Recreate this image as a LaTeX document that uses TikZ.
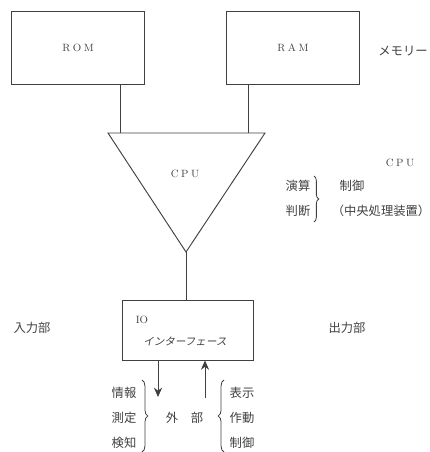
\documentclass[tikz,border=0pt]{standalone}
\usepackage{fontspec}
\newfontfamily\jp{Noto Sans CJK JP}
\newfontfamily\jpslant[FakeSlant=0.2]{Noto Sans CJK JP}
\usetikzlibrary{arrows.meta, positioning, decorations.pathreplacing, calc}

\newcommand{\sk}{\kern2.2pt}

\tikzset{
    unit/.style={draw, line width=0.8pt, inner sep=0pt},
    txt/.style={inner sep=1pt, font=\fontsize{10.5}{12}\selectfont\jp},
    latin/.style={inner sep=1pt, font=\small},
    link/.style={line width=0.8pt},
    curly/.style={decorate, decoration={brace, amplitude=4pt}, line width=0.7pt}
}

\begin{document}
\begin{tikzpicture}[x=0.03cm, y=-0.03cm, color=black!75]
    \useasboundingbox (0,0) rectangle (430,452);
    % memory
    \foreach \x/\name/\label in {78/rom/R\sk O\sk M, 293/ram/R\sk A\sk M} {
        \node[unit, latin, minimum width=3.99cm, minimum height=2.19cm] (\name) at (\x, 48) {\label};
    }
    \node[txt] (mem) at (403, 51) {メモリー};

    % cpu
    \coordinate (cpuL) at (108, 133);
    \coordinate (cpuR) at (265, 133);
    \coordinate (cpuB) at (186, 252);
    \draw[link] (cpuL) -- (cpuR) -- (cpuB) -- cycle;
    \node[latin] (cpu) at (185, 174) {C\sk P\sk U};
    \coordinate (romlink) at (120, 133);
    \coordinate (ramlink) at (248, 133);
    \draw[link] (romlink |- rom.south) -- (romlink);
    \draw[link] (ramlink |- ram.south) -- (ramlink);

    \node[latin] (cpuname) at (400, 163) {C\sk P\sk U};
    \node[txt] (calc) at (298, 186) {演算};
    \node[txt] (judge) at (298, 211) {判断};
    \coordinate (bt) at (314, 176);
    \coordinate (bb) at (314, 222);
    \draw[curly] (bt) -- (bb);
    \node[txt] (ctrl) at (352, 186) {制御};
    \node[txt] (cpuj) at (381, 211) {（中央処理装置）};

    % io
    \node[unit, minimum width=3.93cm, minimum height=1.8cm] (io) at (187.5, 330) {};
    \draw[link] (cpuB) -- (io.north -| cpuB);
    \node[latin] (ioname) at (142, 320) {IO};
    \node[txt, font=\fontsize{9}{11}\selectfont\jpslant] (iface) at (185, 341) {インターフェース};
    \node[txt] (inp) at (32, 328) {入力部};
    \node[txt] (outp) at (347, 328) {出力部};

    % external
    \coordinate (outend) at (158, 397);
    \coordinate (inbeg) at (205, 398);
    \draw[link, -{Stealth[length=8pt, width=7pt]}] (io.south -| outend) -- (outend);
    \draw[link, -{Stealth[length=8pt, width=7pt]}] (inbeg) -- (io.south -| inbeg);
    \foreach \y/\a/\b in {393/情報/表示, 418/測定/作動, 443/検知/制御} {
        \node[txt] (l\y) at (124, \y) {\a};
        \node[txt] (r\y) at (242, \y) {\b};
    }
    \draw[curly, decoration={amplitude=5pt}] (142, 380) -- (142, 452);
    \draw[curly, decoration={amplitude=5pt}] (224, 452) -- (224, 380);
    \node[txt] (ext1) at (172, 418) {外};
    \node[txt] (ext2) at (197, 418) {部};
\end{tikzpicture}
\end{document}
